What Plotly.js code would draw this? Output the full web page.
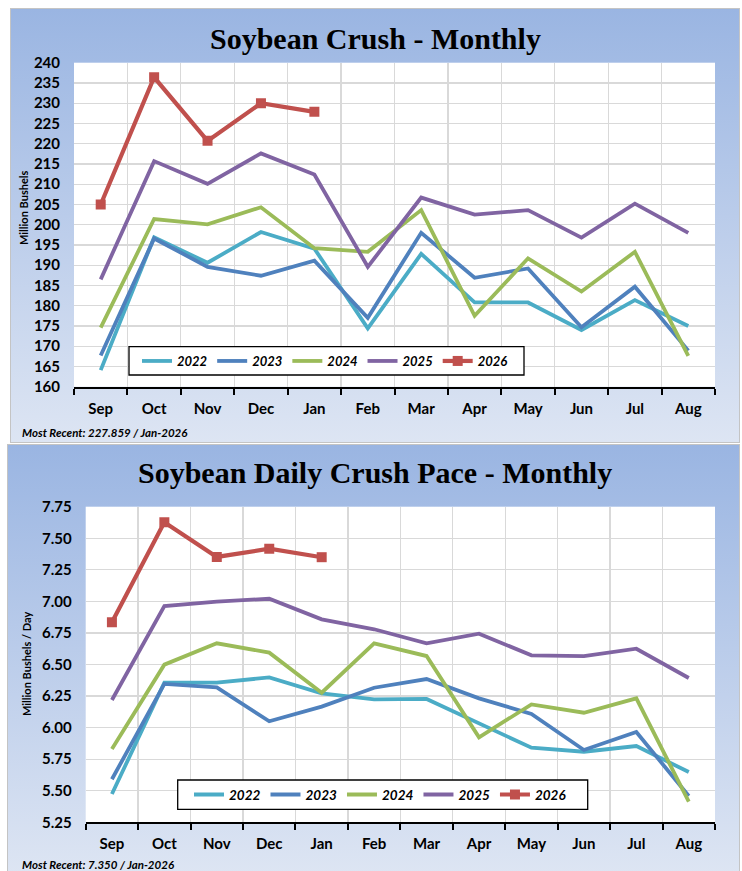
<!DOCTYPE html>
<html><head><meta charset="utf-8">
<script src="https://cdn.plot.ly/plotly-3.0.1.min.js"></script>
<style>
html,body{margin:0;padding:0;width:742px;height:871px;overflow:hidden;background:#fff;}
.panel{position:absolute;box-sizing:border-box;border:1px solid #c4c4c4;background:linear-gradient(#9ab5e2,#dde5f3);}
#p1{left:10px;top:8px;width:730px;height:435px;}
#p2{left:7px;top:444px;width:733px;height:430px;}
#chart{position:absolute;left:0;top:0;width:742px;height:871px;}
</style></head>
<body>
<div id="p1" class="panel"></div>
<div id="p2" class="panel"></div>
<div id="chart"></div>
<script>
// ---- data ----
const months = ['Sep','Oct','Nov','Dec','Jan','Feb','Mar','Apr','May','Jun','Jul','Aug'];
const years = ['2022','2023','2024','2025','2026'];

const crush2022 = [164.1,196.9,190.6,198.2,194.1,174.4,192.8,180.8,180.8,174.0,181.4,175.0];
const crush2023 = [167.7,196.6,189.6,187.4,191.1,177.0,198.0,186.9,189.2,174.7,184.7,168.9];
const crush2024 = [174.6,201.4,200.1,204.3,194.2,193.3,203.6,177.5,191.7,183.5,193.3,167.6];
const crush2025 = [186.5,215.7,210.1,217.6,212.4,189.6,206.7,202.5,203.6,196.8,205.2,198.0];
const crush2026 = [205.0,236.4,220.7,230.0,227.859];

const pace2022 = [5.474,6.356,6.356,6.398,6.271,6.224,6.227,6.034,5.841,5.809,5.854,5.648];
const pace2023 = [5.591,6.346,6.319,6.050,6.166,6.316,6.385,6.232,6.108,5.823,5.965,5.458];
const pace2024 = [5.831,6.499,6.668,6.594,6.277,6.668,6.567,5.923,6.184,6.118,6.232,5.413];
const pace2025 = [6.219,6.963,6.998,7.021,6.858,6.779,6.668,6.744,6.573,6.567,6.625,6.393];
const pace2026 = [6.834,7.626,7.352,7.417,7.350];

const crushTicks = [160,165,170,175,180,185,190,195,200,205,210,215,220,225,230,235,240];
const paceTicks = [5.25,5.50,5.75,6.00,6.25,6.50,6.75,7.00,7.25,7.50,7.75];
const paceTickText = ['5.25','5.50','5.75','6.00','6.25','6.50','6.75','7.00','7.25','7.50','7.75'];

const title1 = 'Soybean Crush - Monthly';
const title2 = 'Soybean Daily Crush Pace - Monthly';
const yTitle1 = 'Million Bushels';
const yTitle2 = 'Million Bushels / Day';
const note1 = 'Most Recent: 227.859 / Jan-2026';
const note2 = 'Most Recent: 7.350 / Jan-2026';

// ---- styling ----
const W = 742, H = 871;
const colors = ['#4BACC6','#4F81BD','#9BBB59','#8064A2','#C0504D'];
const px = v => v / W;
const py = v => 1 - v / H;

const crush = [crush2022, crush2023, crush2024, crush2025, crush2026];
const pace = [pace2022, pace2023, pace2024, pace2025, pace2026];

const traces = [];
function addSet(data, xa, ya, lg) {
  years.forEach((yr, i) => {
    const last = i === years.length - 1;
    traces.push({
      type: 'scatter', mode: last ? 'lines+markers' : 'lines', name: yr,
      x: months.slice(0, data[i].length), y: data[i],
      xaxis: xa, yaxis: ya, legend: lg, hoverinfo: 'skip',
      line: {color: colors[i], width: last ? 4.2 : 3.8},
      marker: {symbol: 'square', size: 10, color: colors[i]}
    });
  });
}
addSet(crush, 'x', 'y', 'legend');
addSet(pace, 'x2', 'y2', 'legend2');

const tickFont = {family: 'Lato, sans-serif', size: 15, color: '#000', weight: 'bold'};
function xAxis(d0, d1, anchor) {
  return {
    domain: [d0, d1], anchor: anchor, type: 'category',
    categoryorder: 'array', categoryarray: months, range: [-0.5, 11.5],
    tickson: 'boundaries', ticks: 'outside', ticklen: 6, tickwidth: 2, tickcolor: '#000',
    showline: true, linecolor: '#000', linewidth: 2,
    showgrid: true, gridcolor: '#d9d9d9', gridwidth: 1.3,
    tickfont: tickFont, ticklabelstandoff: 7, zeroline: false, fixedrange: true
  };
}
function yAxis(d0, d1, anchor, range, tv, tt) {
  return {
    domain: [d0, d1], anchor: anchor, range: range,
    tickmode: 'array', tickvals: tv, ticktext: tt,
    ticks: '', showline: false, zeroline: false,
    showgrid: true, gridcolor: '#d9d9d9', gridwidth: 1.3,
    tickfont: tickFont, ticklabelstandoff: 13, fixedrange: true
  };
}

const legendFont1 = {family: 'Lato, sans-serif', size: 13, color: '#000', weight: 'bold', style: 'italic'};
const legendFont2 = {family: 'Lato, sans-serif', size: 13.5, color: '#000', weight: 'bold', style: 'italic'};
const layout = {
  width: W, height: H, margin: {l: 0, r: 0, t: 0, b: 0},
  paper_bgcolor: 'rgba(0,0,0,0)', plot_bgcolor: '#fff',
  showlegend: true,
  xaxis: xAxis(px(74), px(715), 'y'),
  yaxis: yAxis(py(386.7), py(62.7), 'x', [160, 240], crushTicks, crushTicks.map(String)),
  xaxis2: xAxis(px(85.7), px(715), 'y2'),
  yaxis2: yAxis(py(822.3), py(506.7), 'x2', [5.25, 7.75], paceTicks, paceTickText),
  legend: {orientation: 'h', x: px(137), xanchor: 'left', y: py(361), yanchor: 'middle',
           bgcolor: 'rgba(0,0,0,0)', borderwidth: 0, font: legendFont1},
  legend2: {orientation: 'h', x: px(189), xanchor: 'left', y: py(794.7), yanchor: 'middle',
           bgcolor: 'rgba(0,0,0,0)', borderwidth: 0, font: legendFont2},
  shapes: [
    {type: 'rect', xref: 'paper', yref: 'paper', x0: px(129), x1: px(524), y0: py(375), y1: py(346.7),
     fillcolor: '#fff', line: {color: '#000', width: 1.3}, layer: 'above'},
    {type: 'rect', xref: 'paper', yref: 'paper', x0: px(177.7), x1: px(587.7), y0: py(809.3), y1: py(780),
     fillcolor: '#fff', line: {color: '#000', width: 1.3}, layer: 'above'}
  ],
  annotations: [
    {text: '<b>' + title1 + '</b>', xref: 'paper', yref: 'paper', x: px(376), y: py(38), xanchor: 'center', yanchor: 'middle', showarrow: false,
     font: {family: 'Liberation Serif, serif', size: 30, color: '#000'}},
    {text: '<b>' + title2 + '</b>', xref: 'paper', yref: 'paper', x: px(375), y: py(472), xanchor: 'center', yanchor: 'middle', showarrow: false,
     font: {family: 'Liberation Serif, serif', size: 30, color: '#000'}},
    {text: '<b>' + yTitle1 + '</b>', xref: 'paper', yref: 'paper', x: px(23), y: py(208), xanchor: 'center', yanchor: 'middle', showarrow: false,
     textangle: -90, font: {family: 'Lato, sans-serif', size: 11, color: '#000'}},
    {text: '<b>' + yTitle2 + '</b>', xref: 'paper', yref: 'paper', x: px(26), y: py(664), xanchor: 'center', yanchor: 'middle', showarrow: false,
     textangle: -90, font: {family: 'Lato, sans-serif', size: 11, color: '#000'}},
    {text: '<b><i>' + note1 + '</i></b>', xref: 'paper', yref: 'paper', x: px(20), xanchor: 'left', y: py(432), yanchor: 'middle', showarrow: false,
     font: {family: 'Lato, sans-serif', size: 11.5, color: '#000'}},
    {text: '<b><i>' + note2 + '</i></b>', xref: 'paper', yref: 'paper', x: px(20), xanchor: 'left', y: py(864.5), yanchor: 'middle', showarrow: false,
     font: {family: 'Lato, sans-serif', size: 11.5, color: '#000'}}
  ]
};

Plotly.newPlot('chart', traces, layout, {staticPlot: true, displayModeBar: false});
</script>
</body></html>
